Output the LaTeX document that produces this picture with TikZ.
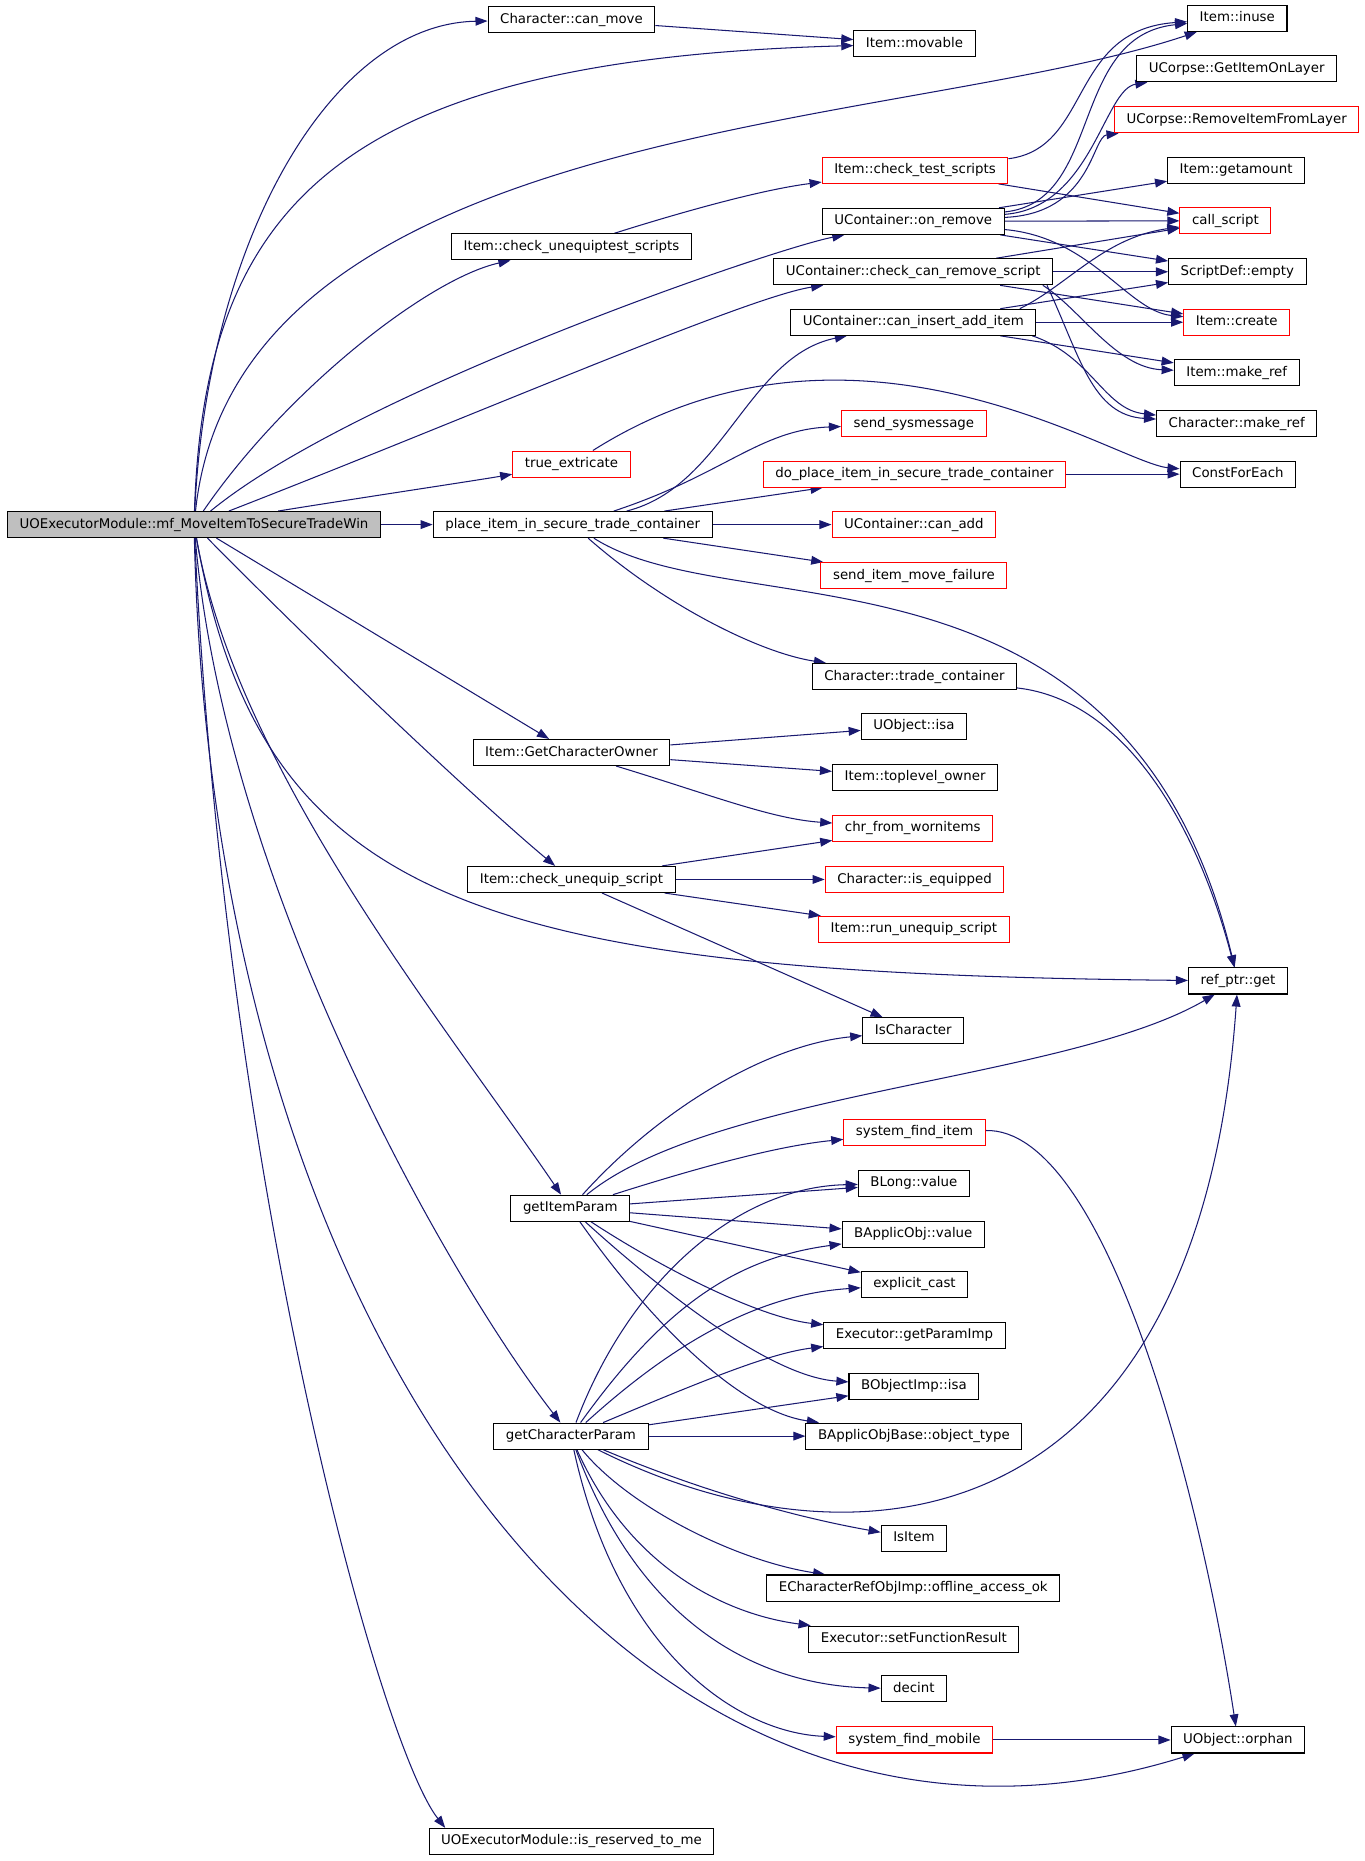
\documentclass[tikz,border=0pt]{standalone}
\usepackage{fontspec}
\setmainfont{DejaVu Sans}
\usetikzlibrary{arrows.meta,backgrounds,calc}
\definecolor{callblue}{HTML}{191970}
\tikzset{
  fn/.style={draw=black, fill=white, line width=0.5pt, font=\fontsize{6.4}{7}\selectfont,
    inner xsep=5.8pt, inner ysep=0pt, minimum height=12.5pt, text height=4.8pt, text depth=1.4pt},
  undoc/.style={fn, draw=red},
  root/.style={fn, fill=black!25},
  call/.style={draw=callblue, line width=0.5pt, -{Triangle[length=5.8pt,width=4.2pt]}}
}

\begin{document}
\begin{tikzpicture}[x=0.02cm,y=-0.02cm]
\useasboundingbox (0,0) rectangle (1150,1568);

% functions
\node[root] (main) at (163.5,442) {UOExecutorModule::mf\_MoveItemToSecureTradeWin};
\node[fn] (canmove) at (481.5,16.5) {Character::can\_move};
\node[fn] (movable) at (770.5,37) {Item::movable};
\node[fn] (inuse) at (1042.5,15.5) {Item::inuse};
\node[fn] (layerget) at (1042,58) {UCorpse::GetItemOnLayer};
\node[undoc] (layerremove) at (1042,101) {UCorpse::RemoveItemFromLayer};
\node[undoc] (testscripts) at (771,143.5) {Item::check\_test\_scripts};
\node[fn] (getamount) at (1041.5,143.5) {Item::getamount};
\node[fn] (onremove) at (769.5,186.5) {UContainer::on\_remove};
\node[undoc] (callscript) at (1032.5,186) {call\_script};
\node[fn] (unequiptest) at (481.5,208) {Item::check\_unequiptest\_scripts};
\node[fn] (canremove) at (769.5,229) {UContainer::check\_can\_remove\_script};
\node[fn] (sdempty) at (1042.5,229) {ScriptDef::empty};
\node[fn] (caninsert) at (769.5,271.5) {UContainer::can\_insert\_add\_item};
\node[undoc] (create) at (1042,271.5) {Item::create};
\node[fn] (itemref) at (1042,314) {Item::make\_ref};
\node[fn] (charref) at (1042,357) {Character::make\_ref};
\node[undoc] (sysmsg) at (770,357) {send\_sysmessage};
\node[undoc] (extricate) at (481.5,391) {true\_extricate};
\node[undoc] (doplace) at (770.5,399.5) {do\_place\_item\_in\_secure\_trade\_container};
\node[fn] (foreach) at (1043,399.5) {ConstForEach};
\node[fn] (place) at (482.5,442) {place\_item\_in\_secure\_trade\_container};
\node[undoc] (canadd) at (770,442) {UContainer::can\_add};
\node[undoc] (movefail) at (770,485) {send\_item\_move\_failure};
\node[fn] (tradecont) at (770.5,570) {Character::trade\_container};
\node[fn] (objisa) at (770,612) {UObject::isa};
\node[fn] (owner) at (481.5,634) {Item::GetCharacterOwner};
\node[fn] (toplevel) at (771,655) {Item::toplevel\_owner};
\node[undoc] (worn) at (769,698) {chr\_from\_wornitems};
\node[fn] (unequip) at (481.5,741) {Item::check\_unequip\_script};
\node[undoc] (equipped) at (770.5,741) {Character::is\_equipped};
\node[undoc] (rununequip) at (770,783) {Item::run\_unequip\_script};
\node[fn] (refget) at (1043,826.5) {ref\_ptr::get};
\node[fn] (ischar) at (769.5,868.5) {IsCharacter};
\node[undoc] (finditem) at (770.5,954) {system\_find\_item};
\node[fn] (itemparam) at (480.5,1018) {getItemParam};
\node[fn] (blong) at (770,997) {BLong::value};
\node[fn] (applicval) at (769.5,1040) {BApplicObj::value};
\node[fn] (cast) at (770.5,1082) {explicit\_cast};
\node[fn] (paramimp) at (770.5,1125) {Executor::getParamImp};
\node[fn] (impisa) at (770,1168) {BObjectImp::isa};
\node[fn] (objtype) at (770,1210) {BApplicObjBase::object\_type};
\node[fn] (charparam) at (481,1210) {getCharacterParam};
\node[fn] (isitem) at (770,1296) {IsItem};
\node[fn] (offline) at (769.5,1338) {ECharacterRefObjImp::offline\_access\_ok};
\node[fn] (setresult) at (770,1381) {Executor::setFunctionResult};
\node[fn] (decint) at (770,1423) {decint};
\node[undoc] (findmobile) at (770.5,1466) {system\_find\_mobile};
\node[fn] (orphan) at (1043,1466) {UObject::orphan};
\node[fn] (reserved) at (481.5,1551.5) {UOExecutorModule::is\_reserved\_to\_me};

\begin{pgfonlayer}{background}
\fill[white] (0,0) rectangle (1150,1568);
% calls from the root
\draw[call] (main) .. controls (175,200) and (280,20) .. (canmove);
\draw[call] (main) .. controls (172,170) and (290,50) .. (movable);
\draw[call] (main) .. controls (200,100) and (760,110) .. (inuse);
\draw[call] (main) .. controls (240,330) and (360,235) .. (unequiptest);
\draw[call] (main) .. controls (300,330) and (650,210) .. (onremove);
\draw[call] (main) .. controls (400,350) and (630,250) .. (canremove);
\draw[call] (main) .. controls (300,420) and (400,405) .. (extricate);
\draw[call] (main) -- (place);
\draw[call] (main) -- (owner);
\draw[call] (main) .. controls (300,580) and (420,690) .. (unequip);
\draw[call] (main) .. controls (220,760) and (400,820) .. (refget);
\draw[call] (main) .. controls (200,650) and (380,870) .. (itemparam);
\draw[call] (main) .. controls (190,750) and (380,1080) .. (charparam);
\draw[call] (main) .. controls (180,1150) and (550,1620) .. (orphan);
\draw[call] (main) .. controls (190,1000) and (320,1470) .. ($(reserved.north west)+(14,0)$);

% upper block
\draw[call] (canmove) -- (movable);
\draw[call] (unequiptest) .. controls (570,180) and (640,160) .. (testscripts);
\draw[call] (testscripts) .. controls (920,125) and (900,25) .. (inuse);
\draw[call] (testscripts) -- (callscript);
\draw[call] (onremove) .. controls (930,170) and (900,30) .. (inuse);
\draw[call] (onremove) .. controls (920,175) and (930,75) .. (layerget);
\draw[call] (onremove) .. controls (920,180) and (920,115) .. (layerremove);
\draw[call] (onremove) -- (getamount);
\draw[call] (onremove) -- (callscript);
\draw[call] (onremove) -- (sdempty);
\draw[call] (onremove) .. controls (920,200) and (950,262) .. (create);
\draw[call] (canremove) -- (callscript);
\draw[call] (canremove) -- (sdempty);
\draw[call] (canremove) -- (create);
\draw[call] ([xshift=-5pt]canremove.south east) .. controls (910,260) and (940,310) .. (itemref);
\draw[call] ([xshift=-3pt]canremove.south east) .. controls (910,300) and (920,350) .. (charref);
\draw[call] ([xshift=-8pt]caninsert.north east) .. controls (900,240) and (930,200) .. (callscript);
\draw[call] (caninsert) -- (sdempty);
\draw[call] (caninsert) -- (create);
\draw[call] (caninsert) -- (itemref);
\draw[call] ([xshift=-2pt]caninsert.south east) .. controls (920,300) and (930,345) .. (charref);

% place_item_in_secure_trade_container
\draw[call] (place) .. controls (610,410) and (630,300) .. (caninsert);
\draw[call] (place) .. controls (610,400) and (640,362) .. (sysmsg);
\draw[call] (place) -- (doplace);
\draw[call] (place) -- (canadd);
\draw[call] (place) -- (movefail);
\draw[call] (place) .. controls (560,510) and (640,550) .. (tradecont);
\draw[call] (place) .. controls (620,530) and (950,440) .. (refget);
\draw[call] (doplace) -- (foreach);
\draw[call] (extricate) .. controls (720,240) and (940,390) .. (foreach);
\draw[call] (tradecont) .. controls (950,590) and (1010,700) .. (refget);

% owner and unequip
\draw[call] (owner) -- (objisa);
\draw[call] (owner) -- (toplevel);
\draw[call] (owner) .. controls (600,670) and (650,690) .. (worn);
\draw[call] (unequip) -- (worn);
\draw[call] (unequip) -- (equipped);
\draw[call] (unequip) -- (rununequip);
\draw[call] (unequip) -- (ischar);

% getItemParam
\draw[call] (itemparam) .. controls (560,930) and (650,880) .. (ischar);
\draw[call] (itemparam) .. controls (600,920) and (900,910) .. (refget);
\draw[call] (itemparam) .. controls (600,980) and (660,965) .. (finditem);
\draw[call] (itemparam) -- (blong);
\draw[call] (itemparam) -- (applicval);
\draw[call] (itemparam) -- (cast);
\draw[call] (itemparam) .. controls (560,1070) and (640,1110) .. (paramimp);
\draw[call] (itemparam) .. controls (560,1090) and (650,1160) .. (impisa);
\draw[call] (itemparam) .. controls (560,1130) and (630,1190) .. (objtype);

% getCharacterParam
\draw[call] (charparam) .. controls (530,1080) and (620,1000) .. (blong);
\draw[call] (charparam) .. controls (560,1100) and (620,1060) .. (applicval);
\draw[call] (charparam) .. controls (580,1120) and (650,1090) .. (cast);
\draw[call] (charparam) .. controls (600,1160) and (650,1140) .. (paramimp);
\draw[call] (charparam) -- (impisa);
\draw[call] (charparam) -- (objtype);
\draw[call] (charparam) .. controls (720,1330) and (1010,1300) .. (refget);
\draw[call] (charparam) .. controls (600,1260) and (680,1280) .. (isitem);
\draw[call] (charparam) .. controls (530,1270) and (620,1315) .. (offline);
\draw[call] (charparam) .. controls (530,1320) and (610,1360) .. (setresult);
\draw[call] (charparam) .. controls (540,1370) and (640,1420) .. (decint);
\draw[call] (charparam) .. controls (520,1390) and (620,1460) .. (findmobile);
\draw[call] (finditem) .. controls (930,950) and (1010,1250) .. (orphan);
\draw[call] (findmobile) -- (orphan);
\end{pgfonlayer}
\end{tikzpicture}
\end{document}
